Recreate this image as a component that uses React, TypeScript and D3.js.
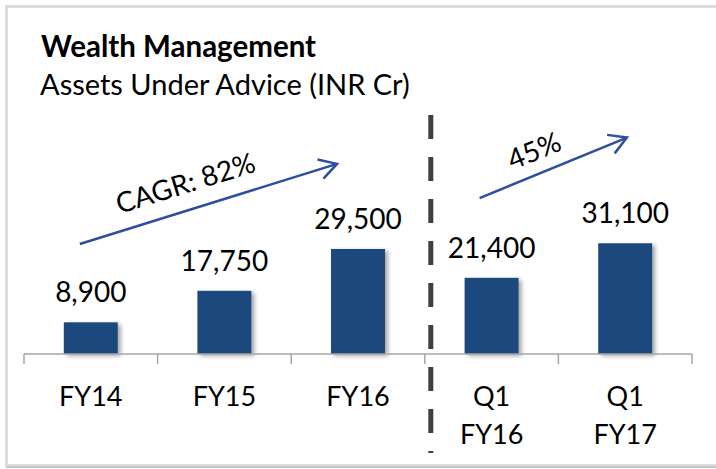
import React from "react";
import * as d3 from "d3";

const categories: string[][] = [["FY14"], ["FY15"], ["FY16"], ["Q1", "FY16"], ["Q1", "FY17"]];
const categoryKeys = ["FY14", "FY15", "FY16", "Q1 FY16", "Q1 FY17"];
const values = [8900, 17750, 29500, 21400, 31100];
const valueLabels = ["8,900", "17,750", "29,500", "21,400", "31,100"];
const title = "Wealth Management";
const subtitle = "Assets Under Advice (INR Cr)";
// growth annotations
const growthFrom = ["FY14", "Q1 FY16"];
const growthTo = ["FY16", "Q1 FY17"];
const growthLabels = ["CAGR: 82%", "45%"];
const growthStartLevel = [30900, 43800];
const growthEndLevel = [53400, 60800];

const W = 716;
const H = 469;
const BLUE = "#1f497d";
const ARROW = "#2e4e9f";

export default function App() {
  const x = d3.scaleBand<string>().domain(categoryKeys).range([24, 692]).paddingInner(0.596).paddingOuter(0.298);
  const y = d3.scaleLinear().domain([0, 35000]).range([354, 229.4]);
  const step = x.step();
  const bw = x.bandwidth();
  const gap = (step - bw) / 2;
  const baseY = y(0);
  const ticks = categoryKeys.map((c) => (x(c) as number) - gap).concat([(x(categoryKeys[4]) as number) + bw + gap]);
  const dividerX = (x("Q1 FY16") as number) - gap + 6;

  const arrowStart = [16, 15];
  const arrowEnd = [6, 28.7];
  const labelShift = [[-16, 2], [-10, 5]];

  return (
    <svg width={W} height={H} style={{ position: "absolute", left: 0, top: 0, background: "#fff" }} fontFamily="Lato, 'Open Sans', sans-serif">
      <defs>
        <filter id="sh" x="-20%" y="-20%" width="150%" height="150%">
          <feDropShadow dx="3" dy="2" stdDeviation="2" floodColor="#000" floodOpacity="0.35" />
        </filter>
      </defs>
      <rect x={0} y={0} width={W} height={H} fill="#fff" />
      <rect x={6.5} y={6.5} width={730} height={459} fill="none" stroke="#dcdcdc" strokeWidth={3} />
      <line x1={6} x2={W} y1={467} y2={467} stroke="#c4c4c4" strokeWidth={2} />

      <text x={41} y={56.7} fontSize={29.5} fontWeight={700} fill="#000">{title}</text>
      <text x={40} y={95} fontSize={29} fill="#000">{subtitle}</text>

      {values.map((v, i) => (
        <rect key={categoryKeys[i]} x={x(categoryKeys[i])} y={y(v)} width={bw} height={baseY - y(v)} fill={BLUE} filter="url(#sh)" />
      ))}

      <line x1={24} x2={692} y1={baseY} y2={baseY} stroke="#a6a6a6" strokeWidth={1.5} />
      {ticks.map((t, i) => (
        <line key={i} x1={t} x2={t} y1={baseY} y2={baseY + 10} stroke="#a6a6a6" strokeWidth={1.5} />
      ))}

      <line x1={dividerX} x2={dividerX} y1={115} y2={453} stroke="#404040" strokeWidth={5} strokeDasharray="24 18" />

      {values.map((v, i) => (
        <text key={"v" + i} x={(x(categoryKeys[i]) as number) + bw / 2} y={y(v) - 20} fontSize={28} textAnchor="middle" fill="#000">
          {valueLabels[i]}
        </text>
      ))}

      {categories.map((lines, i) => (
        <text key={"c" + i} x={(x(categoryKeys[i]) as number) + bw / 2} fontSize={27} textAnchor="middle" fill="#000">
          {lines.map((l, j) => (
            <tspan key={j} x={(x(categoryKeys[i]) as number) + bw / 2} y={406 + j * 38}>{l}</tspan>
          ))}
        </text>
      ))}

      {growthLabels.map((lab, i) => {
        const x1 = (x(growthFrom[i]) as number) + arrowStart[i];
        const y1 = y(growthStartLevel[i]);
        const x2 = (x(growthTo[i]) as number) + arrowEnd[i];
        const y2 = y(growthEndLevel[i]);
        const ang = Math.atan2(y2 - y1, x2 - x1);
        const hl = 20;
        const ha = Math.PI / 6;
        const p1 = [x2 - hl * Math.cos(ang - ha), y2 - hl * Math.sin(ang - ha)];
        const p2 = [x2 - hl * Math.cos(ang + ha), y2 - hl * Math.sin(ang + ha)];
        const deg = (ang * 180) / Math.PI;
        const mx = (x1 + x2) / 2;
        const my = (y1 + y2) / 2;
        const off = 14;
        const tx = mx + off * Math.sin(ang) + labelShift[i][0];
        const ty = my - off * Math.cos(ang) + labelShift[i][1];
        return (
          <g key={"g" + i}>
            <line x1={x1} y1={y1} x2={x2} y2={y2} stroke={ARROW} strokeWidth={2.5} />
            <polyline points={`${p1[0]},${p1[1]} ${x2},${y2} ${p2[0]},${p2[1]}`} fill="none" stroke={ARROW} strokeWidth={2.5} />
            <text x={tx} y={ty} fontSize={28} textAnchor="middle" fill="#000" transform={`rotate(${deg} ${tx} ${ty})`}>
              {lab}
            </text>
          </g>
        );
      })}
    </svg>
  );
}
